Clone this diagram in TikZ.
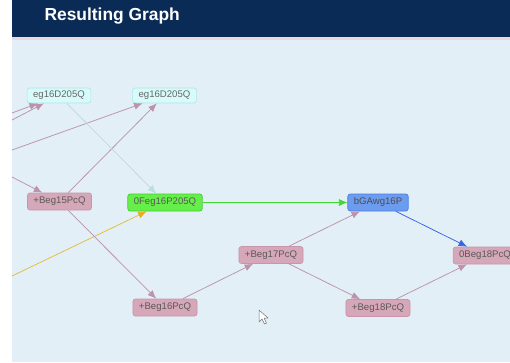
\documentclass[tikz,border=0pt]{standalone}
\usepackage{fontspec}
\setmainfont{Liberation Sans}
\usetikzlibrary{arrows.meta}

\definecolor{navy}{HTML}{0B2B57}
\definecolor{seam}{HTML}{EAD8DF}
\definecolor{panel}{HTML}{E2EFF7}
\definecolor{pinkfill}{HTML}{D6A7B8}
\definecolor{pinkline}{HTML}{C895AA}
\definecolor{cyanfill}{HTML}{D9FAFA}
\definecolor{cyanline}{HTML}{AEE6E8}
\definecolor{greenfill}{HTML}{66EE4A}
\definecolor{greenline}{HTML}{44CC33}
\definecolor{bluefill}{HTML}{6C9CF0}
\definecolor{blueline}{HTML}{4A7BE0}
\definecolor{mauve}{HTML}{BC93AB}
\definecolor{paleteal}{HTML}{B8DEDE}
\definecolor{gold}{HTML}{E2BE3A}
\definecolor{amber}{HTML}{F0A818}
\definecolor{leaf}{HTML}{3FD92E}
\definecolor{royal}{HTML}{3766DD}

\begin{document}
\begin{tikzpicture}[x=1pt,y=-1pt,
    gnode/.style={draw,rounded corners=2.5pt,line width=0.7pt,inner xsep=6pt,inner ysep=0pt,
        minimum height=17pt,font=\fontsize{9.6}{11}\selectfont},
    pinkbox/.style={gnode,fill=pinkfill,draw=pinkline,text=black!65},
    cyanbox/.style={gnode,fill=cyanfill,draw=cyanline,text=black!60,minimum height=15pt},
    greenbox/.style={gnode,fill=greenfill,draw=greenline,text=black!65},
    bluebox/.style={gnode,fill=bluefill,draw=blueline,text=black!70},
    edge/.style={-{Latex[length=8.5pt,width=7pt]},line width=0.75pt,draw=mauve}]
    \useasboundingbox (0,0) rectangle (510,362);
    \clip (0,0) rectangle (510,362);

    % page
    \fill[white](0,0)rectangle(12,362);
    \fill[panel](12,40)rectangle(510,362);
    \fill[seam](12,37)rectangle(510,40);
    \fill[navy](12,0)rectangle(510,37);
    \node[anchor=west,text=white,font=\fontsize{17.4}{20}\selectfont\bfseries] (title) at (41,16.5) {Resulting Graph};

    % nodes
    \node[cyanbox] (eg1) at (59,95.5) {eg16D205Q};
    \node[cyanbox] (eg2) at (164.5,95.5) {eg16D205Q};
    \node[pinkbox] (b15) at (59.5,201.5) {+Beg15PcQ};
    \node[greenbox] (f16) at (165,202.5) {0Feg16P205Q};
    \node[bluebox] (ga16) at (378,202.5) {bGAwg16P};
    \node[pinkbox] (b17) at (271,255) {+Beg17PcQ};
    \node[pinkbox] (b16) at (165,307.5) {+Beg16PcQ};
    \node[pinkbox] (b18) at (378,308) {+Beg18PcQ};
    \node[pinkbox] (o18) at (485,255.5) {0Beg18PcQ};

    % loose ends at the left border
    \coordinate (w1) at (12,113);
    \coordinate (w2) at (12,120);
    \coordinate (w3) at (12,150);
    \coordinate (w4) at (12,177);
    \coordinate (w5) at (12,276);

    % edges
    \draw[edge](w1)--(eg1);
    \draw[edge](w2)--(eg1);
    \draw[edge](w3)--(eg2);
    \draw[edge](w4)--(b15);
    \draw[edge](b15)--(eg2);
    \draw[edge,draw=paleteal,-{Latex[length=8.5pt,width=7pt,color=paleteal]}](eg1)--(f16);
    \draw[edge,draw=gold,-{Latex[length=8.5pt,width=7pt,color=amber]}](w5)--(f16);
    \draw[edge](b15)--(b16);
    \draw[edge,draw=leaf](f16)--(ga16);
    \draw[edge](b16)--(b17);
    \draw[edge](b17)--(ga16);
    \draw[edge](b17)--(b18);
    \draw[edge,draw=royal](ga16)--(o18);
    \draw[edge](b18)--(o18);

    % mouse pointer
    \draw[fill=white,draw=black!55,line width=0.5pt,line join=round](259,310)--++(0,12)--++(3,-3)
        --++(2.5,5)--++(2,-1)--++(-2.5,-5)--++(4,0)--cycle;
\end{tikzpicture}
\end{document}
